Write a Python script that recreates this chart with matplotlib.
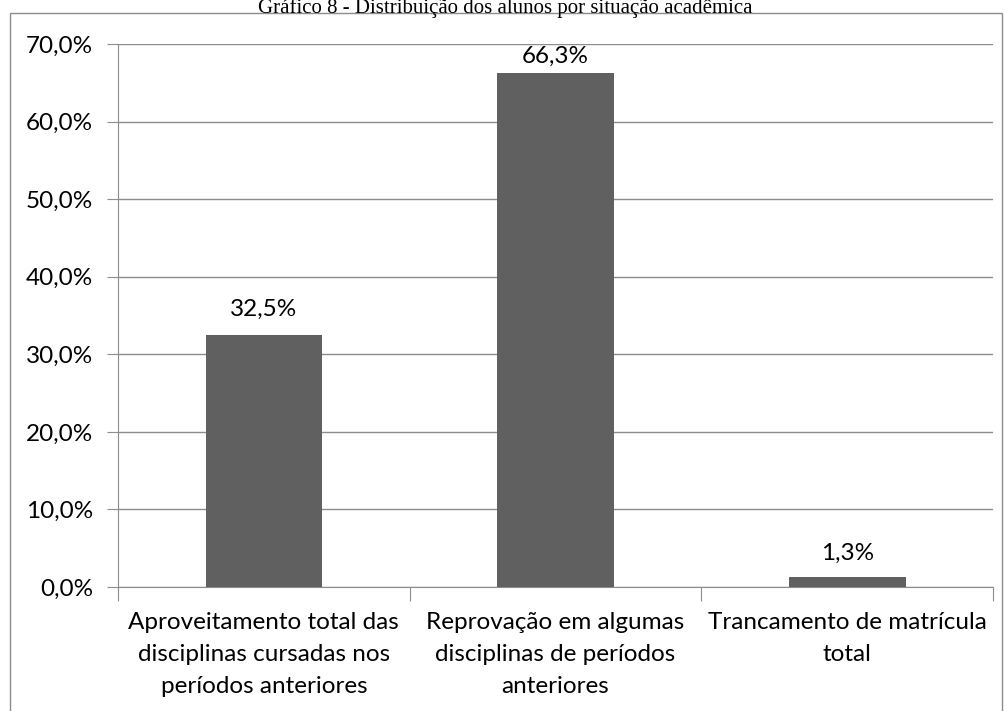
import matplotlib
matplotlib.use("Agg")
import matplotlib.pyplot as plt
from matplotlib.patches import Rectangle
from matplotlib.ticker import FuncFormatter, MultipleLocator

categories = ["Aproveitamento total das\ndisciplinas cursadas nos\nperíodos anteriores",
              "Reprovação em algumas\ndisciplinas de períodos\nanteriores",
              "Trancamento de matrícula\ntotal"]
values = [32.5, 66.3, 1.3]
value_labels = ["32,5%", "66,3%", "1,3%"]
title = "Gráfico 8 - Distribuição dos alunos por situação acadêmica"

W, H = 1007, 711
fig = plt.figure(figsize=(W/100, H/100), dpi=100)
font = "Lato"
fs = 17.5

ax = fig.add_axes([118/W, 1-587/H, (993-118)/W, (587-44)/H])
x = list(range(len(values)))
ax.bar(x, values, width=0.4, color="#606060", zorder=3)
ax.set_xlim(-0.5, 2.5)
ax.set_ylim(0, 70)
ax.yaxis.set_major_locator(MultipleLocator(10))
ax.yaxis.set_major_formatter(FuncFormatter(lambda v, p: f"{v:.1f}%".replace(".", ",")))
ax.grid(axis="y", color="#8c8c8c", linewidth=1, zorder=0)
for s in ["top", "right"]:
    ax.spines[s].set_visible(False)
for s in ["left", "bottom"]:
    ax.spines[s].set_color("#8c8c8c")
ax.set_xticks([-0.5, 0.5, 1.5, 2.5])
ax.set_xticklabels([])
ax.set_xticks(x, minor=True)
ax.set_xticklabels(categories, minor=True, fontsize=fs, family=font, linespacing=1.65)
ax.tick_params(axis="x", which="major", length=10, color="#8c8c8c", direction="out")
ax.tick_params(axis="x", which="minor", length=0, pad=18)
ax.tick_params(axis="y", length=8, color="#8c8c8c", pad=10, labelsize=fs)
for lab in ax.get_yticklabels():
    lab.set_family(font)

# label offsets (points) above each bar; the tallest is squeezed under the top gridline
label_offsets = [10.5, 4, 9.5]
for xi, v, t, off in zip(x, values, value_labels, label_offsets):
    ax.annotate(t, (xi, v), xytext=(0, off), textcoords="offset points",
                ha="center", va="bottom", fontsize=fs, family=font)

fig.patches.append(Rectangle((10/W, -0.05), (1002-10)/W, 1.05 - 13/H,
                             transform=fig.transFigure, fill=False,
                             edgecolor="#8c8c8c", linewidth=1))
fig.text(505/W, 1-8/H, title, ha="center", va="center", fontsize=15,
         family="Liberation Serif")

fig.savefig("out.png", dpi=100)
